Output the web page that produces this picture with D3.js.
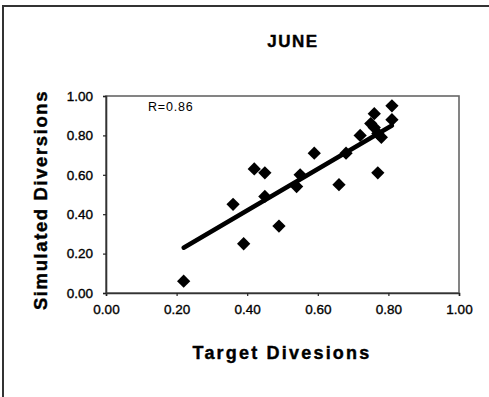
<!DOCTYPE html>
<html>
<head>
<meta charset="utf-8">
<script src="https://cdn.jsdelivr.net/npm/d3@7"></script>
<style>
  html,body{margin:0;padding:0;background:#fff;}
  svg{display:block;font-family:"Liberation Sans",Arial,sans-serif;}
</style>
</head>
<body>
<svg id="chart" width="489" height="397"></svg>
<script>
// ---- data ----
const targetDiv    = [0.22, 0.36, 0.39, 0.42, 0.45, 0.45, 0.49, 0.54, 0.55, 0.59, 0.66, 0.68, 0.72, 0.76, 0.76, 0.77, 0.78, 0.81, 0.81, 0.75, 0.77];
const simulatedDiv = [0.06, 0.45, 0.25, 0.63, 0.61, 0.49, 0.34, 0.54, 0.60, 0.71, 0.55, 0.71, 0.80, 0.91, 0.84, 0.61, 0.79, 0.95, 0.88, 0.86, 0.81];
const trendX = [0.22, 0.81];
const trendY = [0.23, 0.85];
const ticks = [0, 0.2, 0.4, 0.6, 0.8, 1.0];
const title = 'JUNE', xTitle = 'Target Divesions', yTitle = 'Simulated Diversions', rLabel = 'R=0.86';

const svg = d3.select('#chart');
const L = 106, R = 459, T = 96, B = 293;
const x = d3.scaleLinear().domain([0, 1]).range([L, R]);
const y = d3.scaleLinear().domain([0, 1]).range([B, T]);

// outer frame (only top + left show in the crop)
svg.append('rect').attr('x', 3).attr('y', 6).attr('width', 520).attr('height', 420)
  .attr('fill', 'none').attr('stroke', '#333').attr('stroke-width', 2);

// plot frame
svg.append('rect').attr('x', L).attr('y', T).attr('width', R - L).attr('height', B - T)
  .attr('fill', 'none').attr('stroke', '#666').attr('stroke-width', 1.6);

const fmt = d3.format('.2f');
const xa = svg.append('g').attr('transform', `translate(0,${B})`)
  .call(d3.axisBottom(x).tickValues(ticks).tickFormat(fmt).tickSize(3).tickPadding(8));
const ya = svg.append('g').attr('transform', `translate(${L},0)`)
  .call(d3.axisLeft(y).tickValues(ticks).tickFormat(fmt).tickSize(3).tickPadding(10));
[xa, ya].forEach(a => {
  a.select('.domain').attr('stroke', '#333').attr('stroke-width', 1.6);
  a.selectAll('.tick line').attr('stroke', '#222').attr('stroke-width', 1.2);
  a.selectAll('.tick text').attr('fill', '#000').attr('stroke', '#000').attr('stroke-width', 0.35)
    .style('font-size', '13.5px')
    .style('font-family', '"Liberation Sans",Arial,sans-serif');
});

// trend line
svg.append('line')
  .attr('x1', x(trendX[0])).attr('y1', y(trendY[0]))
  .attr('x2', x(trendX[1])).attr('y2', y(trendY[1]))
  .attr('stroke', '#000').attr('stroke-width', 4.5).attr('stroke-linecap', 'round');

// diamonds
const sym = d3.symbol().type(d3.symbolSquare).size(88);
svg.append('g').selectAll('path').data(targetDiv).join('path')
  .attr('d', sym)
  .attr('transform', (d, i) => `translate(${x(d)},${y(simulatedDiv[i])}) rotate(45)`)
  .attr('fill', '#000');

// texts
svg.append('text').attr('x', 293).attr('y', 47).attr('text-anchor', 'middle')
  .attr('stroke', '#000').attr('stroke-width', 0.4)
  .style('font-size', '17px').style('font-weight', 'bold').style('letter-spacing', '1.5px').text(title);
svg.append('text').attr('x', 148).attr('y', 111)
  .style('font-size', '12.5px').style('letter-spacing', '0.8px').text(rLabel);
svg.append('text').attr('x', 282).attr('y', 359).attr('text-anchor', 'middle')
  .attr('stroke', '#000').attr('stroke-width', 0.4)
  .style('font-size', '18px').style('font-weight', 'bold').style('letter-spacing', '2.2px').text(xTitle);
svg.append('text').attr('transform', 'translate(47,200) rotate(-90)').attr('text-anchor', 'middle')
  .attr('stroke', '#000').attr('stroke-width', 0.4)
  .style('font-size', '18.5px').style('font-weight', 'bold').style('letter-spacing', '1.6px').text(yTitle);
</script>
</body>
</html>
